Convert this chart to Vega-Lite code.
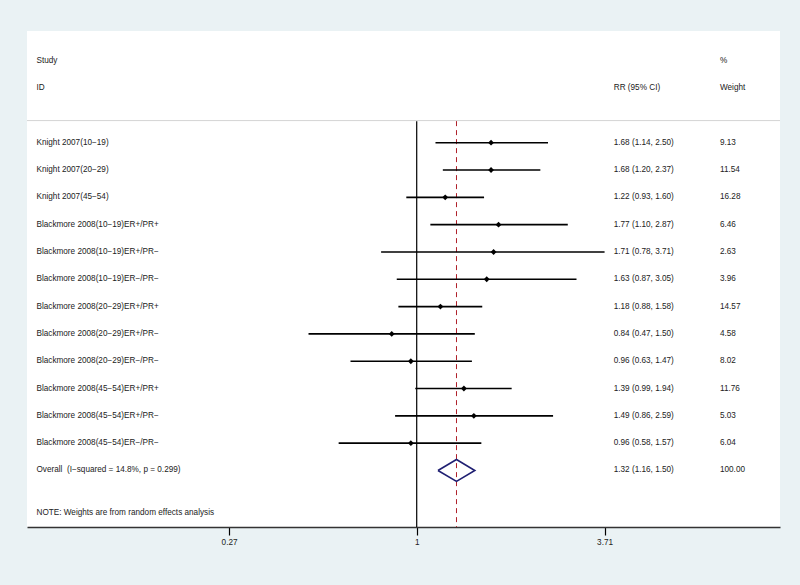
{
  "$schema": "https://vega.github.io/schema/vega-lite/v6.json",
  "width": 753,
  "height": 496,
  "autosize": {"type": "none"},
  "padding": {"left": 27, "top": 31, "right": 20, "bottom": 58},
  "background": "#eaf2f4",
  "config": {
    "view": {"stroke": null, "fill": "#ffffff"},
    "text": {"font": "Liberation Sans", "fontSize": 8.2, "color": "#222222", "baseline": "middle", "align": "left"}
  },
  "datasets": {
    "table": [
      {"row": -3, "study": "Study", "ci": "", "weight": "%", "kind": "header"},
      {"row": -2, "study": "ID", "ci": "RR (95% CI)", "weight": "Weight", "kind": "header"},
      {"row": 0, "study": "Knight 2007(10−19)", "rr": 1.68, "lo": 1.14, "hi": 2.50, "ci": "1.68 (1.14, 2.50)", "weight": "9.13", "kind": "study"},
      {"row": 1, "study": "Knight 2007(20−29)", "rr": 1.68, "lo": 1.20, "hi": 2.37, "ci": "1.68 (1.20, 2.37)", "weight": "11.54", "kind": "study"},
      {"row": 2, "study": "Knight 2007(45−54)", "rr": 1.22, "lo": 0.93, "hi": 1.60, "ci": "1.22 (0.93, 1.60)", "weight": "16.28", "kind": "study"},
      {"row": 3, "study": "Blackmore 2008(10−19)ER+/PR+", "rr": 1.77, "lo": 1.10, "hi": 2.87, "ci": "1.77 (1.10, 2.87)", "weight": "6.46", "kind": "study"},
      {"row": 4, "study": "Blackmore 2008(10−19)ER+/PR−", "rr": 1.71, "lo": 0.78, "hi": 3.71, "ci": "1.71 (0.78, 3.71)", "weight": "2.63", "kind": "study"},
      {"row": 5, "study": "Blackmore 2008(10−19)ER−/PR−", "rr": 1.63, "lo": 0.87, "hi": 3.05, "ci": "1.63 (0.87, 3.05)", "weight": "3.96", "kind": "study"},
      {"row": 6, "study": "Blackmore 2008(20−29)ER+/PR+", "rr": 1.18, "lo": 0.88, "hi": 1.58, "ci": "1.18 (0.88, 1.58)", "weight": "14.57", "kind": "study"},
      {"row": 7, "study": "Blackmore 2008(20−29)ER+/PR−", "rr": 0.84, "lo": 0.47, "hi": 1.50, "ci": "0.84 (0.47, 1.50)", "weight": "4.58", "kind": "study"},
      {"row": 8, "study": "Blackmore 2008(20−29)ER−/PR−", "rr": 0.96, "lo": 0.63, "hi": 1.47, "ci": "0.96 (0.63, 1.47)", "weight": "8.02", "kind": "study"},
      {"row": 9, "study": "Blackmore 2008(45−54)ER+/PR+", "rr": 1.39, "lo": 0.99, "hi": 1.94, "ci": "1.39 (0.99, 1.94)", "weight": "11.76", "kind": "study"},
      {"row": 10, "study": "Blackmore 2008(45−54)ER+/PR−", "rr": 1.49, "lo": 0.86, "hi": 2.59, "ci": "1.49 (0.86, 2.59)", "weight": "5.03", "kind": "study"},
      {"row": 11, "study": "Blackmore 2008(45−54)ER−/PR−", "rr": 0.96, "lo": 0.58, "hi": 1.57, "ci": "0.96 (0.58, 1.57)", "weight": "6.04", "kind": "study"},
      {"row": 12, "study": "Overall\u00a0 (I−squared = 14.8%, p = 0.299)", "rr": 1.32, "lo": 1.16, "hi": 1.50, "ci": "1.32 (1.16, 1.50)", "weight": "100.00", "kind": "overall"},
      {"row": 13.56, "study": "NOTE: Weights are from random effects analysis", "ci": "", "weight": "", "kind": "note"}
    ],
    "refs": [
      {"kind": "null", "rr": 1, "top": -0.79, "bottom": 14.07},
      {"kind": "pooled", "rr": 1.32, "top": -0.79, "bottom": 14.07}
    ],
    "sep": [
      {"left": 0.0659, "right": 12.62, "row": -0.81}
    ],
    "diamond": [
      {"o": 0, "x": 1.16, "y": 12},
      {"o": 1, "x": 1.32, "y": 11.6},
      {"o": 2, "x": 1.50, "y": 12},
      {"o": 3, "x": 1.32, "y": 12.4},
      {"o": 4, "x": 1.16, "y": 12}
    ]
  },
  "layer": [
    {
      "data": {"name": "sep"},
      "mark": {"type": "rule", "color": "#d4d4d4", "strokeWidth": 1},
      "encoding": {
        "x": {"field": "left", "type": "quantitative"},
        "x2": {"field": "right"},
        "y": {"field": "row", "type": "quantitative"}
      }
    },
    {
      "data": {"name": "refs"},
      "transform": [{"filter": "datum.kind == 'null'"}],
      "mark": {"type": "rule", "color": "#000000", "strokeWidth": 1.2},
      "encoding": {
        "x": {"field": "rr", "type": "quantitative"},
        "y": {"field": "top", "type": "quantitative"},
        "y2": {"field": "bottom"}
      }
    },
    {
      "data": {"name": "refs"},
      "transform": [{"filter": "datum.kind == 'pooled'"}],
      "mark": {"type": "rule", "color": "#b0202a", "strokeWidth": 1, "strokeDash": [5, 4]},
      "encoding": {
        "x": {"field": "rr", "type": "quantitative"},
        "y": {"field": "top", "type": "quantitative"},
        "y2": {"field": "bottom"}
      }
    },
    {
      "data": {"name": "table"},
      "transform": [{"filter": "datum.kind == 'study'"}],
      "mark": {"type": "rule", "color": "#000000", "strokeWidth": 1.6},
      "encoding": {
        "x": {"field": "lo", "type": "quantitative"},
        "x2": {"field": "hi"},
        "y": {"field": "row", "type": "quantitative"}
      }
    },
    {
      "data": {"name": "table"},
      "transform": [{"filter": "datum.kind == 'study'"}],
      "mark": {"type": "point", "shape": "diamond", "filled": true, "color": "#000000", "size": 34, "opacity": 1},
      "encoding": {
        "x": {"field": "rr", "type": "quantitative"},
        "y": {"field": "row", "type": "quantitative"}
      }
    },
    {
      "data": {"name": "diamond"},
      "mark": {"type": "line", "color": "#1f1f72", "strokeWidth": 1.6},
      "encoding": {
        "x": {"field": "x", "type": "quantitative"},
        "y": {"field": "y", "type": "quantitative"},
        "order": {"field": "o", "type": "quantitative"}
      }
    },
    {
      "data": {"name": "table"},
      "mark": {"type": "text"},
      "encoding": {
        "x": {"datum": 0.0704, "type": "quantitative"},
        "y": {"field": "row", "type": "quantitative"},
        "text": {"field": "study"}
      }
    },
    {
      "data": {"name": "table"},
      "mark": {"type": "text"},
      "encoding": {
        "x": {"datum": 3.955, "type": "quantitative"},
        "y": {"field": "row", "type": "quantitative"},
        "text": {"field": "ci"}
      }
    },
    {
      "data": {"name": "table"},
      "mark": {"type": "text"},
      "encoding": {
        "x": {"datum": 8.30, "type": "quantitative"},
        "y": {"field": "row", "type": "quantitative"},
        "text": {"field": "weight"}
      }
    }
  ],
  "resolve": {"scale": {"x": "shared", "y": "shared"}},
  "encoding": {
    "x": {"type": "quantitative", "scale": {"type": "log", "domain": [0.0659, 12.62], "nice": false},
          "axis": {"values": [0.27, 1, 3.71], "format": ".3~g", "title": null, "grid": false, "domainColor": "#333333", "domainWidth": 1.5,
                   "tickColor": "#000000", "tickSize": 8, "tickWidth": 1.2, "labelFont": "Liberation Sans", "labelFontSize": 8.2,
                   "labelColor": "#222222", "labelPadding": 3, "labelFlush": false}},
    "y": {"type": "quantitative", "scale": {"domain": [-4.09, 14.07], "reverse": true, "nice": false, "zero": false}, "axis": null}
  }
}
